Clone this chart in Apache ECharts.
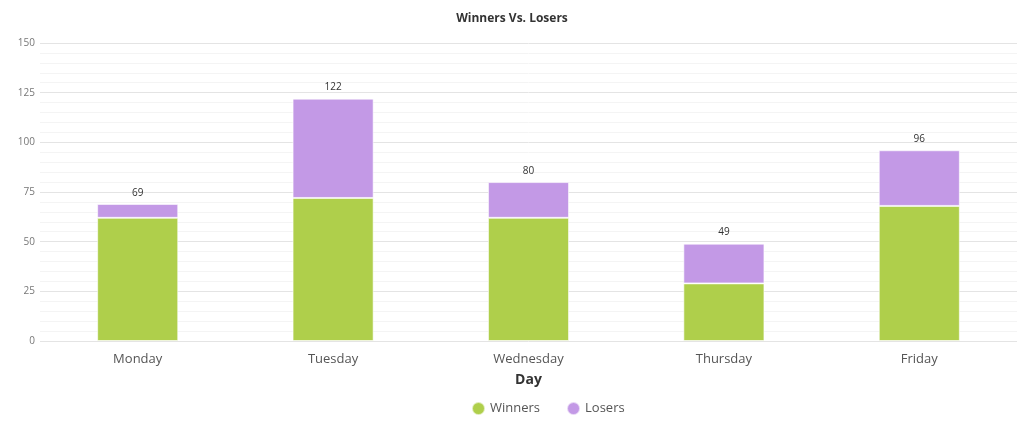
<!DOCTYPE html>
<html><head><meta charset="utf-8">
<script src="https://cdn.jsdelivr.net/npm/echarts@6/dist/echarts.min.js"></script>
<style>html,body{margin:0;padding:0;background:#fff}#c{width:1024px;height:432px}</style>
</head><body><div id="c"></div>
<script>
const categories = ['Monday','Tuesday','Wednesday','Thursday','Friday'];
const winners = [62, 72, 62, 29, 68];
const losers = [7, 50, 18, 20, 28];
const yTicks = [0, 25, 50, 75, 100, 125, 150];

const totals = categories.map((c,i)=>winners[i]+losers[i]);
const chart = echarts.init(document.getElementById('c'));
chart.setOption({
  animation:false,
  title:{text:'Winners Vs. Losers',left:'center',top:8,textStyle:{fontSize:12,fontWeight:'bold',color:'#333',fontFamily:'Open Sans'}},
  grid:{left:40,right:7,top:43,bottom:91,containLabel:false},
  legend:{top:396,left:466,itemWidth:13,itemHeight:13,itemGap:26,icon:'circle',
    textStyle:{fontSize:13,color:'#555',fontFamily:'Open Sans'},data:['Winners','Losers']},
  xAxis:{type:'category',data:categories,name:'Day',nameLocation:'middle',nameGap:32,
    nameTextStyle:{fontSize:14,fontWeight:'bold',color:'#333',fontFamily:'Open Sans'},
    axisLine:{show:false},axisTick:{show:false},
    axisLabel:{fontSize:13,color:'#555',margin:12,fontFamily:'Open Sans'}},
  yAxis:{type:'value',min:yTicks[0],max:yTicks[yTicks.length-1],interval:25,
    axisLine:{show:false},axisTick:{show:false},
    axisLabel:{fontSize:10,color:'#777',margin:5,fontFamily:'Open Sans'},
    splitLine:{lineStyle:{color:'#e4e4e4'}},
    minorTick:{show:false,splitNumber:5},
    minorSplitLine:{show:true,lineStyle:{color:'#f4f4f4'}}},
  series:[
    {name:'Winners',type:'bar',stack:'a',data:winners,barWidth:'41.5%',
     itemStyle:{color:'#afcf4b',borderColor:'rgba(255,255,255,0.6)',borderWidth:1}},
    {name:'Losers',type:'bar',stack:'a',data:losers,barWidth:'41.5%',
     itemStyle:{color:'#c399e6',borderColor:'rgba(255,255,255,0.6)',borderWidth:1},
     label:{show:true,position:'top',distance:6,fontSize:10,color:'#333',fontFamily:'Open Sans',
       formatter:p=>String(totals[p.dataIndex])}}
  ]
});
</script></body></html>
